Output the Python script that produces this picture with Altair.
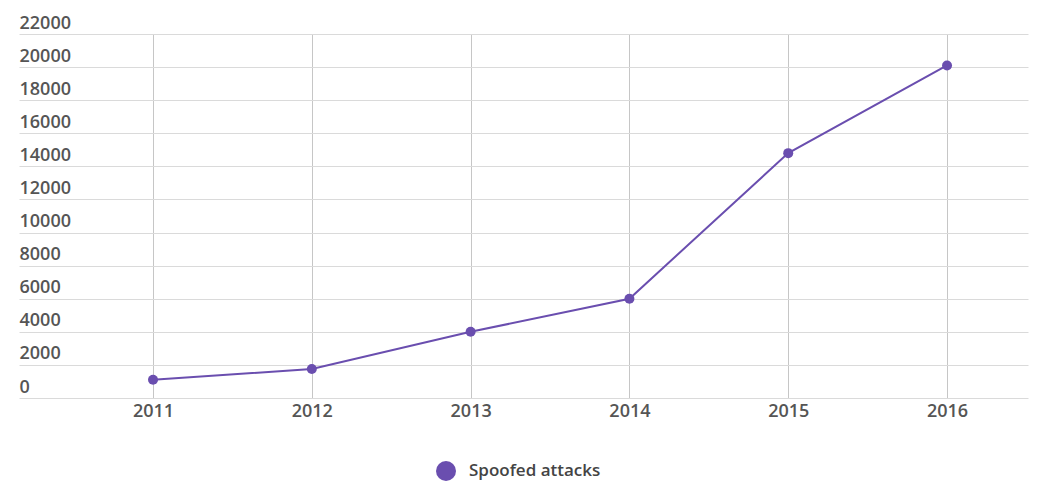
import altair as alt
import pandas as pd

# Yearly counts of spoofed attacks
years = [2011, 2012, 2013, 2014, 2015, 2016]
attacks = [1100, 1750, 4000, 6000, 14800, 20100]
series_name = "Spoofed attacks"

df = pd.DataFrame({"year": years, "attacks": attacks, "series": series_name})

purple = "#6a4eaf"
font = "Open Sans"
label_size = 18
label_weight = 600

x = alt.X(
    "year:Q",
    scale=alt.Scale(domain=[2010.156, 2016.51], nice=False, zero=False),
    axis=alt.Axis(
        values=years,
        format="d",
        title=None,
        domain=False,
        ticks=False,
        grid=True,
        gridColor="#c6c6c6",
        gridWidth=1,
        labelFont=font,
        labelFontSize=label_size,
        labelFontWeight=label_weight,
        labelColor="#555555",
        labelPadding=4,
    ),
)
y = alt.Y(
    "attacks:Q",
    scale=alt.Scale(domain=[0, 22000], nice=False),
    axis=alt.Axis(
        values=list(range(0, 22001, 2000)),
        format="d",
        title=None,
        domain=False,
        ticks=False,
        grid=True,
        gridColor="#dadada",
        gridWidth=1,
        labelFont=font,
        labelFontSize=label_size,
        labelFontWeight=label_weight,
        labelColor="#555555",
        labelAlign="left",
        labelBaseline="bottom",
        labelPadding=0,
        labelOffset=-2,
    ),
)
color = alt.Color(
    "series:N",
    scale=alt.Scale(range=[purple]),
    legend=alt.Legend(
        title=None,
        orient="none",
        legendX=417,
        legendY=427,
        symbolType="circle",
        symbolSize=400,
        symbolStrokeWidth=0,
        symbolFillColor=purple,
        labelFont=font,
        labelFontSize=label_size - 1,
        labelFontWeight=label_weight,
        labelColor="#444444",
        labelOffset=13,
    ),
)

line = alt.Chart(df).mark_line(strokeWidth=2).encode(x=x, y=y, color=color)
points = alt.Chart(df).mark_point(filled=True, size=100, opacity=1, shape="circle").encode(
    x=x, y=y, color=color
)

chart = (
    alt.layer(line, points)
    .properties(
        width=1009,
        height=364,
        padding={"left": 19, "top": 34, "right": 14, "bottom": 85},
        autosize=alt.AutoSizeParams(type="none"),
        background="white",
    )
    .configure_view(stroke=None)
)

chart.save("out.html", embed_options={"renderer": "svg", "actions": False})
